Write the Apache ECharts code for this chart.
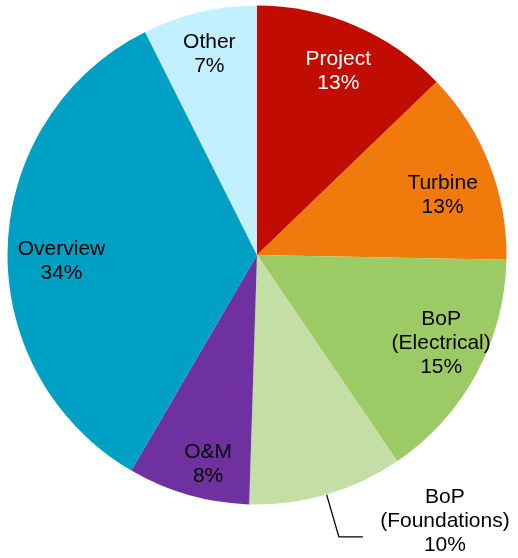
<!DOCTYPE html>
<html>
<head>
<meta charset="utf-8">
<script src="https://cdn.jsdelivr.net/npm/echarts@6/dist/echarts.min.js"></script>
<style>html,body{margin:0;padding:0;background:#fff}#chart{width:518px;height:558px}</style>
</head>
<body>
<div id="chart"></div>
<script>
const categories = ['Project', 'Turbine', 'BoP\n(Electrical)', 'BoP\n(Foundations)', 'O&M', 'Overview', 'Other'];
const values = [12.8, 12.5, 15.2, 10.0, 7.9, 34.2, 7.4];

const colors = ['#C00D00', '#F07A0C', '#9CCB65', '#C3DFA6', '#6F31A0', '#00A0C5', '#C2F0FF'];
const labelColors = ['#ffffff', '#000000', '#000000', '#000000', '#000000', '#000000', '#000000'];
const labelNudge = [[2, 3], [-3, 14], [6, -8], [0, 0], [7, 14], [7, 13], [-1, -4]];
const outsideLabel = 'BoP\n(Foundations)';

const font = 'Liberation Sans, Arial, sans-serif';
const chart = echarts.init(document.getElementById('chart'), null, {renderer: 'canvas'});
const R = 249.5;
const center = [257, 255];

const mainData = categories.map((c, i) => ({
  name: c, value: values[i],
  itemStyle: {color: colors[i]},
  label: {show: c === outsideLabel},
  labelLine: {show: c === outsideLabel}
}));
const ringData = categories.map((c, i) => ({
  name: c, value: values[i],
  label: {show: c !== outsideLabel, color: labelColors[i], offset: labelNudge[i]}
}));

chart.setOption({
  animation: false,
  series: [
    {
      type: 'pie',
      center: center,
      radius: [0, R],
      startAngle: 90,
      clockwise: true,
      silent: true,
      data: mainData,
      itemStyle: {borderWidth: 0},
      label: {
        position: 'outside',
        fontFamily: font,
        fontSize: 21,
        lineHeight: 24,
        color: '#000',
        overflow: 'none',
        distanceToLabelLine: 19,
        padding: [0, 0, 32, 0],
        formatter: p => '{c|' + p.name + '\n' + Math.round(p.value) + '%}',
        rich: {c: {align: 'center', fontFamily: font, fontSize: 21, lineHeight: 24, color: '#000'}}
      },
      labelLine: {length: 44, length2: 24, lineStyle: {color: '#000', width: 1.3}}
    },
    {
      type: 'pie',
      center: center,
      radius: [R * 0.6, R],
      startAngle: 90,
      clockwise: true,
      silent: true,
      data: ringData,
      itemStyle: {color: 'rgba(0,0,0,0)', borderWidth: 0},
      labelLine: {show: false},
      label: {
        position: 'inside',
        fontFamily: font,
        fontSize: 21,
        lineHeight: 24,
        formatter: p => p.name + '\n' + Math.round(p.value) + '%'
      }
    }
  ]
});
</script>
</body>
</html>
